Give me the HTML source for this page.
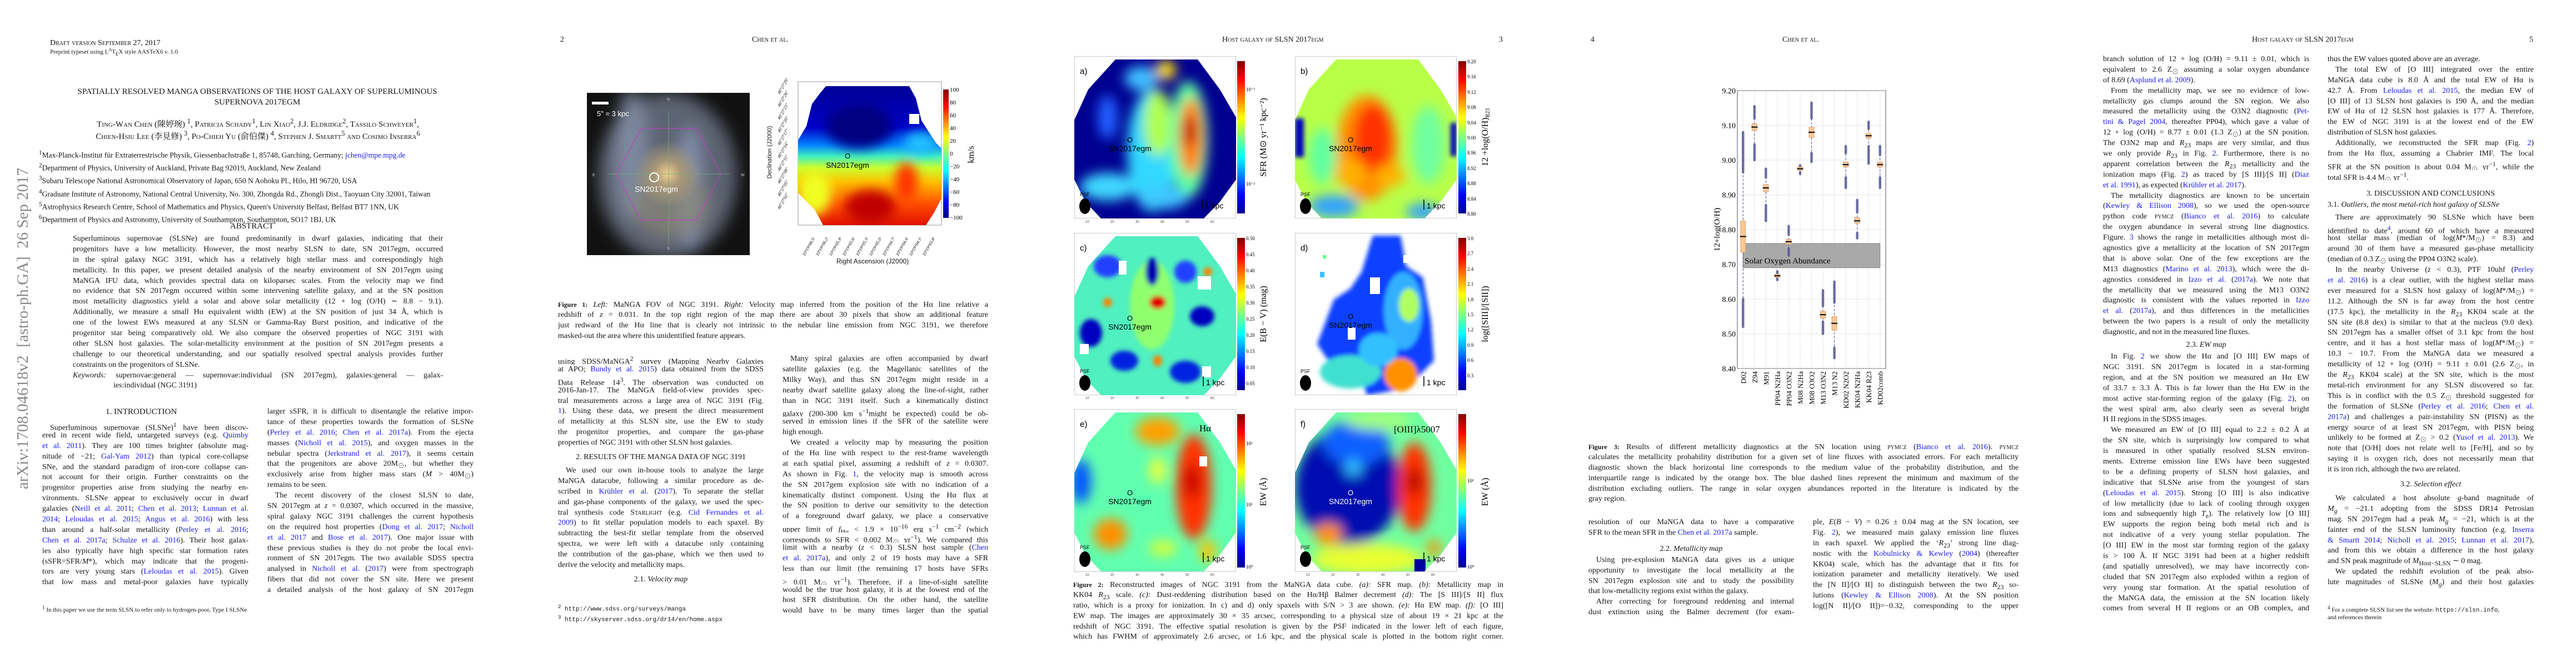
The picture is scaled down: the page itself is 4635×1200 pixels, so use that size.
<!DOCTYPE html>
<html><head><meta charset="utf-8">
<style>
body{margin:0;width:4635px;height:1200px;position:relative;background:#fff;font-family:"Liberation Serif","Noto Serif CJK SC",serif;color:#151515;overflow:hidden}
.a{position:absolute;white-space:nowrap}
.col{position:absolute;font-size:14px;line-height:18.9px}
.col p{margin:0;height:18.9px;overflow:hidden;text-align:justify;text-align-last:justify}
.col p.x{text-align-last:left}
.col p.i{text-indent:14px}
.col p.h{text-align:center;text-align-last:center}
.k{color:#1a1aee}
.sc{font-variant:small-caps}
.hd{position:absolute;font-size:14px;font-variant:small-caps;white-space:nowrap}
.cap{position:absolute;font-size:14px;line-height:18.9px}
.cap p{margin:0;height:18.9px;overflow:hidden;text-align:justify;text-align-last:justify}
.cap p.x{text-align-last:left}
.tk{font-size:11px;font-family:"Liberation Serif",serif}
.mono{font-family:"Liberation Mono",monospace;font-size:11px}
</style></head><body>

<!-- arXiv side stamp -->
<div class="a" style="left:-259px;top:576px;width:600px;height:30px;line-height:30px;font-size:29px;color:#8a8a8a;transform:rotate(-90deg);text-align:center">arXiv:1708.04618v2&nbsp; [astro-ph.GA]&nbsp; 26 Sep 2017</div>

<!-- PAGE 1 -->
<div class="a sc" style="left:90px;top:70px;font-size:14px">Draft version September 27, 2017</div>
<div class="a" style="left:90px;top:85px;font-size:11px">Preprint typeset using L<sup style="font-size:8px">A</sup>T<sub style="font-size:9px">E</sub>X style AASTeX6 v. 1.0</div>
<div class="a" style="left:109px;top:156px;width:708px;font-size:15px;line-height:19px;text-align:center;white-space:normal">SPATIALLY RESOLVED MANGA OBSERVATIONS OF THE HOST GALAXY OF SUPERLUMINOUS<br>SUPERNOVA 2017EGM</div>
<div class="a sc" style="left:124px;top:210px;width:680px;font-size:15px;line-height:16px;text-align:center;white-space:normal;font-family:'Liberation Serif','Noto Serif CJK SC',serif">Ting-Wan Chen (陳婷琬) <sup>1</sup>, Patricia Schady<sup>1</sup>, Lin Xiao<sup>2</sup>, J.J. Eldridge<sup>2</sup>, Tassilo Schweyer<sup>1</sup>,<br>Chien-Hsiu Lee (李見修) <sup>3</sup>, Po-Chieh Yu (俞伯傑) <sup>4</sup>, Stephen J. Smartt<sup>5</sup> and Cosimo Inserra<sup>6</sup></div>
<div class="a" style="left:70px;top:266px;font-size:13.5px;line-height:19.7px;white-space:nowrap">
<div><sup>1</sup>Max-Planck-Institut für Extraterrestrische Physik, Giessenbachstraße 1, 85748, Garching, Germany; <span class="k">jchen@mpe.mpg.de</span></div>
<div><sup>2</sup>Department of Physics, University of Auckland, Private Bag 92019, Auckland, New Zealand</div>
<div><sup>3</sup>Subaru Telescope National Astronomical Observatory of Japan, 650 N Aohoku Pl., Hilo, HI 96720, USA</div>
<div><sup>4</sup>Graduate Institute of Astronomy, National Central University, No. 300, Zhongda Rd., Zhongli Dist., Taoyuan City 32001, Taiwan</div>
<div><sup>5</sup>Astrophysics Research Centre, School of Mathematics and Physics, Queen's University Belfast, Belfast BT7 1NN, UK</div>
<div><sup>6</sup>Department of Physics and Astronomy, University of Southampton, Southampton, SO17 1BJ, UK</div></div>
<div class="a" style="left:414px;top:399px;font-size:15px">ABSTRACT</div>
<div class="col" style="left:131px;top:421px;width:666px">
<p>Superluminous supernovae (SLSNe) are found predominantly in dwarf galaxies, indicating that their</p>
<p>progenitors have a low metallicity. However, the most nearby SLSN to date, SN 2017egm, occurred</p>
<p>in the spiral galaxy NGC 3191, which has a relatively high stellar mass and correspondingly high</p>
<p>metallicity. In this paper, we present detailed analysis of the nearby environment of SN 2017egm using</p>
<p>MaNGA IFU data, which provides spectral data on kiloparsec scales. From the velocity map we find</p>
<p>no evidence that SN 2017egm occurred within some intervening satellite galaxy, and at the SN position</p>
<p>most metallicity diagnostics yield a solar and above solar metallicity (12 + log (O/H) ∼ 8.8 − 9.1).</p>
<p>Additionally, we measure a small Hα equivalent width (EW) at the SN position of just 34 Å, which is</p>
<p>one of the lowest EWs measured at any SLSN or Gamma-Ray Burst position, and indicative of the</p>
<p>progenitor star being comparatively old. We also compare the observed properties of NGC 3191 with</p>
<p>other SLSN host galaxies. The solar-metallicity environment at the position of SN 2017egm presents a</p>
<p>challenge to our theoretical understanding, and our spatially resolved spectral analysis provides further</p>
<p class="x">constraints on the progenitors of SLSNe.</p>
<p><i>Keywords:</i> supernovae:general — supernovae:individual (SN 2017egm), galaxies:general — galax-</p>
<p class="x" style="padding-left:73px">ies:individual (NGC 3191)</p></div>
<div class="a" style="left:190px;top:733px;font-size:15px">1. INTRODUCTION</div>
<div class="col" style="left:76px;top:756px;width:371px">
<p class="i">Superluminous supernovae (SLSNe)<sup>1</sup> have been discov-</p>
<p>ered in recent wide field, untargeted surveys (e.g. <span class="k">Quimby</span></p>
<p><span class="k">et al. 2011</span>). They are 100 times brighter (absolute mag-</p>
<p>nitude of −21; <span class="k">Gal-Yam 2012</span>) than typical core-collapse</p>
<p>SNe, and the standard paradigm of iron-core collapse can-</p>
<p>not account for their origin. Further constraints on the</p>
<p>progenitor properties arise from studying the nearby en-</p>
<p>vironments. SLSNe appear to exclusively occur in dwarf</p>
<p>galaxies (<span class="k">Neill et al. 2011</span>; <span class="k">Chen et al. 2013</span>; <span class="k">Lunnan et al.</span></p>
<p><span class="k">2014</span>; <span class="k">Leloudas et al. 2015</span>; <span class="k">Angus et al. 2016</span>) with less</p>
<p>than around a half-solar metallicity (<span class="k">Perley et al. 2016</span>;</p>
<p><span class="k">Chen et al. 2017a</span>; <span class="k">Schulze et al. 2016</span>). Their host galax-</p>
<p>ies also typically have high specific star formation rates</p>
<p>(sSFR=SFR/<i>M</i>*), which may indicate that the progeni-</p>
<p>tors are very young stars (<span class="k">Leloudas et al. 2015</span>). Given</p>
<p>that low mass and metal-poor galaxies have typically</p></div>
<div class="a" style="left:76px;top:1087px;width:371px;font-size:11px;line-height:12.5px;white-space:normal"><sup>1</sup> In this paper we use the term SLSN to refer only to hydrogen-poor, Type I SLSNe</div>
<div class="col" style="left:481px;top:732px;width:371px">
<p>larger sSFR, it is difficult to disentangle the relative impor-</p>
<p>tance of these properties towards the formation of SLSNe</p>
<p>(<span class="k">Perley et al. 2016</span>; <span class="k">Chen et al. 2017a</span>). From the ejecta</p>
<p>masses (<span class="k">Nicholl et al. 2015</span>), and oxygen masses in the</p>
<p>nebular spectra (<span class="k">Jerkstrand et al. 2017</span>), it seems certain</p>
<p>that the progenitors are above 20M<sub>⊙</sub>, but whether they</p>
<p>exclusively arise from higher mass stars (<i>M</i> &gt; 40M<sub>⊙</sub>)</p>
<p class="x">remains to be seen.</p>
<p class="i">The recent discovery of the closest SLSN to date,</p>
<p>SN 2017egm at <i>z</i> = 0.0307, which occurred in the massive,</p>
<p>spiral galaxy NGC 3191 challenges the current hypothesis</p>
<p>on the required host properties (<span class="k">Dong et al. 2017</span>; <span class="k">Nicholl</span></p>
<p><span class="k">et al. 2017</span> and <span class="k">Bose et al. 2017</span>). One major issue with</p>
<p>these previous studies is they do not probe the local envi-</p>
<p>ronment of SN 2017egm. The two available SDSS spectra</p>
<p>analysed in <span class="k">Nicholl et al.</span> (<span class="k">2017</span>) were from spectrograph</p>
<p>fibers that did not cover the SN site. Here we present</p>
<p>a detailed analysis of the host galaxy of SN 2017egm</p></div>

<!-- PAGE 2 -->
<div class="hd" style="left:1008px;top:64px">2</div>
<div class="hd" style="left:1353px;top:64px">Chen et al.</div>

<svg class="a" style="left:1056px;top:167px" width="293" height="292" viewBox="0 0 293 292">
<defs><filter id="gb"><feGaussianBlur stdDeviation="14"/></filter>
<radialGradient id="gc"><stop offset="0" stop-color="#f0d090"/><stop offset="0.4" stop-color="#a89878"/><stop offset="1" stop-color="#a89878" stop-opacity="0"/></radialGradient></defs>
<rect width="293" height="292" fill="#111"/>
<g filter="url(#gb)">
<ellipse cx="145" cy="150" rx="125" ry="150" fill="#6a7282" opacity="0.85"/>
<ellipse cx="80" cy="110" rx="30" ry="120" fill="#8a98b0" opacity="0.7"/>
<ellipse cx="185" cy="170" rx="25" ry="110" fill="#8a9ab8" opacity="0.8"/>
<ellipse cx="150" cy="200" rx="70" ry="60" fill="#8a8878" opacity="0.7"/>
</g>
<ellipse cx="145" cy="146" rx="60" ry="60" fill="url(#gc)"/>
<polygon points="53,146 98,64 197,64 241,146 197,229 97,229" fill="none" stroke="#c040c0" stroke-width="1.2"/>
<line x1="38" y1="146" x2="257" y2="146" stroke="#70b070" stroke-width="0.8"/>
<line x1="147" y1="36" x2="147" y2="273" stroke="#70b070" stroke-width="0.8"/>
<ellipse cx="121" cy="152" rx="8" ry="8" fill="none" stroke="#fff" stroke-width="2"/>
<text x="125" y="178" fill="#fff" font-size="14" font-family="Liberation Sans" text-anchor="middle">SN2017egm</text>
<rect x="9" y="16" width="30" height="5" fill="#fff"/>
<text x="18" y="42" fill="#fff" font-size="13" font-family="Liberation Sans">5" = 3 kpc</text>
<text x="144" y="14" fill="#ccc" font-size="7" font-family="Liberation Sans">N</text>
<text x="144" y="282" fill="#ccc" font-size="7" font-family="Liberation Sans">S</text>
<text x="10" y="150" fill="#ccc" font-size="7" font-family="Liberation Sans">E</text>
<text x="277" y="150" fill="#ccc" font-size="7" font-family="Liberation Sans">W</text>
</svg>

<svg class="a" style="left:1436px;top:147px;overflow:visible" width="258" height="258" viewBox="0 0 258 258">
<defs><clipPath id="cv"><polygon points="50,8 200,8 212,30 222,70 248,110 258,120 258,210 245,235 230,258 45,258 30,230 0,200 0,105 15,80 25,40 40,20"/></clipPath>
<linearGradient id="gv" x1="0" y1="0" x2="0" y2="1"><stop offset="0" stop-color="#00008f"/><stop offset="0.32" stop-color="#0000c8"/><stop offset="0.44" stop-color="#0080ff"/><stop offset="0.52" stop-color="#40f0c0"/><stop offset="0.6" stop-color="#c8ff30"/><stop offset="0.7" stop-color="#ffc000"/><stop offset="0.85" stop-color="#ff5000"/><stop offset="1" stop-color="#e01000"/></linearGradient>
<filter id="fv"><feGaussianBlur stdDeviation="10"/></filter></defs>
<rect x="0" y="0" width="258" height="258" fill="#fff" stroke="#999"/>
<g clip-path="url(#cv)"><rect width="258" height="258" fill="url(#gv)"/>
<g filter="url(#fv)"><ellipse cx="110" cy="80" rx="60" ry="40" fill="#000080"/><ellipse cx="130" cy="225" rx="45" ry="30" fill="#c00000"/><ellipse cx="195" cy="180" rx="20" ry="35" fill="#ff3000"/><ellipse cx="30" cy="200" rx="30" ry="40" fill="#f0ff20"/><ellipse cx="220" cy="110" rx="30" ry="20" fill="#20c0ff"/></g>
<rect x="200" y="58" width="18" height="18" fill="#fff"/></g>
<text x="89" y="138" font-size="13" font-family="Liberation Sans" text-anchor="middle">O</text>
<text x="89" y="155" font-size="14" font-family="Liberation Sans" text-anchor="middle">SN2017egm</text>
</svg>
<svg class="a" style="left:1697px;top:160px;overflow:visible" width="60" height="240">
<defs><linearGradient id="jet" x1="0" y1="0" x2="0" y2="1"><stop offset="0" stop-color="#800000"/><stop offset="0.12" stop-color="#ff0000"/><stop offset="0.37" stop-color="#ffff00"/><stop offset="0.5" stop-color="#80ff80"/><stop offset="0.63" stop-color="#00ffff"/><stop offset="0.88" stop-color="#0000ff"/><stop offset="1" stop-color="#00008f"/></linearGradient></defs>
<rect x="0" y="1" width="10" height="231" fill="url(#jet)"/>
<g class="tk" font-size="10" font-family="Liberation Serif"><text x="12" y="5">100</text><text x="12" y="28">80</text><text x="12" y="51">60</text><text x="12" y="74">40</text><text x="12" y="97">20</text><text x="12" y="120">0</text><text x="12" y="143">−20</text><text x="12" y="166">−40</text><text x="12" y="189">−60</text><text x="12" y="212">−80</text><text x="12" y="235">−100</text></g>
<text transform="translate(55,118) rotate(-90)" font-size="16" text-anchor="middle" font-family="Liberation Serif">km/s</text>
</svg>
<div class="a" style="left:1320px;top:268px;width:130px;text-align:center;font-family:'Liberation Sans',sans-serif;font-size:11px;transform:rotate(-90deg)">Declination (J2000)</div>
<svg class="a" style="left:1395px;top:140px" width="42" height="270">
<g font-size="8" font-family="Liberation Serif" font-style="italic">
<text transform="translate(8,30) rotate(-60)">46°27′29″</text><text transform="translate(8,53) rotate(-60)">46°27′26″</text><text transform="translate(8,76) rotate(-60)">46°27′23″</text><text transform="translate(8,99) rotate(-60)">46°27′20″</text><text transform="translate(8,122) rotate(-60)">46°27′17″</text><text transform="translate(8,145) rotate(-60)">46°27′14″</text><text transform="translate(8,168) rotate(-60)">46°27′11″</text><text transform="translate(8,191) rotate(-60)">46°27′08″</text><text transform="translate(8,214) rotate(-60)">46°27′05″</text><text transform="translate(8,237) rotate(-60)">46°27′02″</text></g></svg>
<svg class="a" style="left:1420px;top:405px" width="290" height="60">
<g font-size="8" font-family="Liberation Serif" font-style="italic">
<text transform="translate(28,56) rotate(-60)">10ʰ19ᵐ06.5ˢ</text><text transform="translate(52,56) rotate(-60)">10ʰ19ᵐ06.2ˢ</text><text transform="translate(76,56) rotate(-60)">10ʰ19ᵐ05.9ˢ</text><text transform="translate(100,56) rotate(-60)">10ʰ19ᵐ05.6ˢ</text><text transform="translate(124,56) rotate(-60)">10ʰ19ᵐ05.3ˢ</text><text transform="translate(148,56) rotate(-60)">10ʰ19ᵐ05.0ˢ</text><text transform="translate(172,56) rotate(-60)">10ʰ19ᵐ04.7ˢ</text><text transform="translate(196,56) rotate(-60)">10ʰ19ᵐ04.4ˢ</text><text transform="translate(220,56) rotate(-60)">10ʰ19ᵐ04.1ˢ</text><text transform="translate(244,56) rotate(-60)">10ʰ19ᵐ03.8ˢ</text></g></svg>
<div class="a" style="left:1505px;top:463px;font-family:'Liberation Sans',sans-serif;font-size:12px">Right Ascension (J2000)</div>

<div class="cap" style="left:1004px;top:539px;width:774px">
<p><b style="font-size:12px">Figure 1:</b> <i>Left:</i> MaNGA FOV of NGC 3191. <i>Right:</i> Velocity map inferred from the position of the Hα line relative a</p>
<p>redshift of <i>z</i> = 0.031. In the top right region of the map there are about 30 pixels that show an additional feature</p>
<p>just redward of the Hα line that is clearly not intrinsic to the nebular line emission from NGC 3191, we therefore</p>
<p class="x">masked-out the area where this unidentified feature appears.</p></div>
<div class="col" style="left:1004px;top:637px;width:370px">
<p>using SDSS/MaNGA<sup>2</sup> survey (Mapping Nearby Galaxies</p>
<p>at APO; <span class="k">Bundy et al. 2015</span>) data obtained from the SDSS</p>
<p>Data Release 14<sup>3</sup>. The observation was conducted on</p>
<p>2016-Jan-17. The MaNGA field-of-view provides spec-</p>
<p>tral measurements across a large area of NGC 3191 (Fig.</p>
<p><span class="k">1</span>). Using these data, we present the direct measurement</p>
<p>of metallicity at this SLSN site, use the EW to study</p>
<p>the progenitor properties, and compare the gas-phase</p>
<p class="x">properties of NGC 3191 with other SLSN host galaxies.</p>
<p class="h" style="height:31px;line-height:31px">2. RESULTS OF THE MANGA DATA OF NGC 3191</p>
<p class="i">We used our own in-house tools to analyze the large</p>
<p>MaNGA datacube, following a similar procedure as de-</p>
<p>scribed in <span class="k">Krühler et al.</span> (<span class="k">2017</span>). To separate the stellar</p>
<p>and gas-phase components of the galaxy, we used the spec-</p>
<p>tral synthesis code <span class="sc">Starlight</span> (e.g. <span class="k">Cid Fernandes et al.</span></p>
<p><span class="k">2009</span>) to fit stellar population models to each spaxel. By</p>
<p>subtracting the best-fit stellar template from the observed</p>
<p>spectra, we were left with a datacube only containing</p>
<p>the contribution of the gas-phase, which we then used to</p>
<p class="x">derive the velocity and metallicity maps.</p>
<p class="h" style="height:31px;line-height:31px">2.1. <i>Velocity map</i></p></div>
<div class="a mono" style="left:1004px;top:1085px;line-height:13px"><sup>2</sup> http://www.sdss.org/surveys/manga<br><sup>3</sup> http://skyserver.sdss.org/dr14/en/home.aspx</div>
<div class="col" style="left:1408px;top:637px;width:370px">
<p class="i">Many spiral galaxies are often accompanied by dwarf</p>
<p>satellite galaxies (e.g. the Magellanic satellites of the</p>
<p>Milky Way), and thus SN 2017egm might reside in a</p>
<p>nearby dwarf satellite galaxy along the line-of-sight, rather</p>
<p>than in NGC 3191 itself. Such a kinematically distinct</p>
<p>galaxy (200-300 km s<sup>−1</sup>might be expected) could be ob-</p>
<p>served in emission lines if the SFR of the satellite were</p>
<p class="x">high enough.</p>
<p class="i">We created a velocity map by measuring the position</p>
<p>of the Hα line with respect to the rest-frame wavelength</p>
<p>at each spatial pixel, assuming a redshift of <i>z</i> = 0.0307.</p>
<p>As shown in Fig. <span class="k">1</span>, the velocity map is smooth across</p>
<p>the SN 2017gem explosion site with no indication of a</p>
<p>kinematically distinct component. Using the Hα flux at</p>
<p>the SN position to derive our sensitivity to the detection</p>
<p>of a foreground dwarf galaxy, we place a conservative</p>
<p>upper limit of <i>f</i><sub>Hα</sub> &lt; 1.9 × 10<sup>−16</sup> erg s<sup>−1</sup> cm<sup>−2</sup> (which</p>
<p>corresponds to SFR &lt; 0.002 M<sub>⊙</sub> yr<sup>−1</sup>). We compared this</p>
<p>limit with a nearby (<i>z</i> &lt; 0.3) SLSN host sample (<span class="k">Chen</span></p>
<p><span class="k">et al. 2017a</span>), and only 2 of 19 hosts may have a SFR</p>
<p>less than our limit (the remaining 17 hosts have SFRs</p>
<p>&gt; 0.01 M<sub>⊙</sub> yr<sup>−1</sup>). Therefore, if a line-of-sight satellite</p>
<p>would be the true host galaxy, it is at the lowest end of the</p>
<p>host SFR distribution. On the other hand, the satellite</p>
<p>would have to be many times larger than the spatial</p></div>

<!-- PAGE 3 -->
<div class="hd" style="left:2199px;top:64px">Host galaxy of SLSN 2017egm</div>
<div class="hd" style="left:2697px;top:64px">3</div>

<svg width="0" height="0" style="position:absolute"><defs>
<clipPath id="hx"><polygon points="74,6 222,6 262,60 291,110 291,222 262,262 233,292 48,292 20,262 0,222 0,115 25,60"/></clipPath>
<filter id="bl"><feGaussianBlur stdDeviation="11"/></filter>
<filter id="bs"><feGaussianBlur stdDeviation="4"/></filter>
<linearGradient id="jet2" x1="0" y1="0" x2="0" y2="1"><stop offset="0" stop-color="#800000"/><stop offset="0.12" stop-color="#ff0000"/><stop offset="0.37" stop-color="#ffff00"/><stop offset="0.5" stop-color="#80ff80"/><stop offset="0.63" stop-color="#00ffff"/><stop offset="0.88" stop-color="#0000ff"/><stop offset="1" stop-color="#00008f"/></linearGradient>
</defs></svg>

<!-- panel a -->
<svg class="a" style="left:1933px;top:101px" width="291" height="292">
<rect width="291" height="292" fill="#fff" stroke="#999"/>
<g clip-path="url(#hx)"><rect width="291" height="292" fill="#00008f"/>
<g filter="url(#bl)"><ellipse cx="140" cy="170" rx="45" ry="110" fill="#30d8ff"/><ellipse cx="150" cy="120" rx="25" ry="60" fill="#b0ff50"/><ellipse cx="205" cy="150" rx="35" ry="105" fill="#60ffa0"/><ellipse cx="210" cy="145" rx="22" ry="70" fill="#ff8000"/><ellipse cx="208" cy="135" rx="12" ry="28" fill="#c00000"/><ellipse cx="165" cy="25" rx="18" ry="18" fill="#ffe000"/><ellipse cx="120" cy="40" rx="30" ry="22" fill="#40c0ff"/><ellipse cx="60" cy="235" rx="50" ry="25" fill="#40d8ff"/><ellipse cx="160" cy="255" rx="45" ry="20" fill="#40c8ff"/><ellipse cx="60" cy="110" rx="18" ry="40" fill="#2060ff"/></g></g>
<text x="10" y="32" font-size="15" font-family="Liberation Sans">a)</text>
<text x="100" y="155" font-size="13" font-family="Liberation Sans" text-anchor="middle">O</text><text x="100" y="171" font-size="14" font-family="Liberation Sans" text-anchor="middle">SN2017egm</text>
<text x="10" y="252" font-size="9" font-family="Liberation Sans">PSF</text><ellipse cx="19" cy="270" rx="10" ry="14"/>
<line x1="230" y1="258" x2="230" y2="276" stroke="#000" stroke-width="1.5"/><text x="235" y="274" font-size="14" font-family="Liberation Sans">1 kpc</text></svg>
<!-- panel b -->
<svg class="a" style="left:2330px;top:101px" width="291" height="292">
<rect width="291" height="292" fill="#fff" stroke="#999"/>
<g clip-path="url(#hx)"><rect width="291" height="292" fill="#b8ff48"/>
<g filter="url(#bl)"><ellipse cx="50" cy="180" rx="25" ry="50" fill="#60ffa0"/><ellipse cx="240" cy="160" rx="30" ry="70" fill="#70ffa0"/><ellipse cx="130" cy="165" rx="55" ry="95" fill="#ff9000"/><ellipse cx="140" cy="150" rx="35" ry="65" fill="#ff3000"/><ellipse cx="100" cy="210" rx="30" ry="25" fill="#ffb000"/><ellipse cx="170" cy="215" rx="28" ry="20" fill="#ffb000"/><ellipse cx="70" cy="270" rx="45" ry="20" fill="#30a0ff"/><ellipse cx="230" cy="280" rx="30" ry="15" fill="#30a0ff"/></g>
<g filter="url(#bs)"><rect x="0" y="112" width="16" height="70" fill="#0000c0"/><rect x="280" y="120" width="11" height="60" fill="#0000c0"/></g></g>
<text x="10" y="32" font-size="15" font-family="Liberation Sans">b)</text>
<text x="100" y="155" font-size="13" font-family="Liberation Sans" text-anchor="middle">O</text><text x="100" y="171" font-size="14" font-family="Liberation Sans" text-anchor="middle">SN2017egm</text>
<text x="10" y="252" font-size="9" font-family="Liberation Sans">PSF</text><ellipse cx="19" cy="270" rx="10" ry="14"/>
<line x1="232" y1="258" x2="232" y2="276" stroke="#000" stroke-width="1.5"/><text x="237" y="274" font-size="14" font-family="Liberation Sans">1 kpc</text></svg>
<!-- panel c -->
<svg class="a" style="left:1933px;top:419px" width="291" height="292">
<rect width="291" height="292" fill="#fff" stroke="#999"/>
<g clip-path="url(#hx)"><rect width="291" height="292" fill="#50f0c0"/>
<g filter="url(#bs)"><ellipse cx="140" cy="130" rx="40" ry="80" fill="#90ff70"/><ellipse cx="60" cy="60" rx="25" ry="20" fill="#2040ff"/><ellipse cx="200" cy="70" rx="20" ry="20" fill="#2040ff"/><ellipse cx="140" cy="70" rx="12" ry="25" fill="#0000b0"/><ellipse cx="230" cy="150" rx="22" ry="18" fill="#0000c0"/><ellipse cx="30" cy="180" rx="20" ry="25" fill="#0000c0"/><ellipse cx="90" cy="230" rx="25" ry="18" fill="#0020e0"/><ellipse cx="200" cy="250" rx="28" ry="20" fill="#0020e0"/><ellipse cx="150" cy="125" rx="15" ry="12" fill="#e00000"/><ellipse cx="60" cy="125" rx="8" ry="8" fill="#ff8000"/><ellipse cx="240" cy="70" rx="8" ry="8" fill="#ff8000"/><ellipse cx="150" cy="230" rx="8" ry="10" fill="#ff8000"/></g>
<rect x="80" y="50" width="14" height="25" fill="#fff"/><rect x="222" y="78" width="24" height="24" fill="#fff"/><rect x="10" y="200" width="16" height="18" fill="#fff"/><rect x="230" y="240" width="16" height="20" fill="#fff"/></g>
<text x="10" y="32" font-size="15" font-family="Liberation Sans">c)</text>
<text x="100" y="158" font-size="13" font-family="Liberation Sans" text-anchor="middle">O</text><text x="100" y="174" font-size="14" font-family="Liberation Sans" text-anchor="middle">SN2017egm</text>
<text x="10" y="252" font-size="9" font-family="Liberation Sans">PSF</text><ellipse cx="19" cy="270" rx="10" ry="14"/>
<line x1="232" y1="258" x2="232" y2="276" stroke="#000" stroke-width="1.5"/><text x="237" y="274" font-size="14" font-family="Liberation Sans">1 kpc</text></svg>
<!-- panel d -->
<svg class="a" style="left:2330px;top:419px" width="291" height="292">
<rect width="291" height="292" fill="#fff" stroke="#999"/>
<g filter="url(#bs)"><path d="M140,5 L190,5 L200,60 L230,80 L245,160 L250,230 L200,280 L130,292 L110,240 L60,230 L40,200 L70,120 L100,100 L120,70 Z" fill="#1040ff"/><ellipse cx="195" cy="140" rx="35" ry="70" fill="#30b0ff"/><ellipse cx="205" cy="130" rx="18" ry="30" fill="#b0ff60"/><ellipse cx="190" cy="255" rx="30" ry="30" fill="#ff9000"/><ellipse cx="100" cy="250" rx="55" ry="30" fill="#40e0d0"/><ellipse cx="150" cy="210" rx="35" ry="30" fill="#30c0ff"/></g>
<rect x="95" y="170" width="14" height="22" fill="#fff"/><rect x="135" y="80" width="18" height="30" fill="#fff"/><rect x="195" y="40" width="22" height="14" fill="#fff"/>
<rect x="50" y="40" width="6" height="6" fill="#60ff80"/><rect x="45" y="70" width="8" height="10" fill="#40c0ff"/>
<text x="10" y="32" font-size="15" font-family="Liberation Sans">d)</text>
<text x="100" y="155" font-size="13" font-family="Liberation Sans" text-anchor="middle">O</text><text x="100" y="171" font-size="14" font-family="Liberation Sans" text-anchor="middle">SN2017egm</text>
<text x="10" y="252" font-size="9" font-family="Liberation Sans">PSF</text><ellipse cx="19" cy="270" rx="10" ry="14"/>
<line x1="232" y1="258" x2="232" y2="276" stroke="#000" stroke-width="1.5"/><text x="237" y="274" font-size="14" font-family="Liberation Sans">1 kpc</text></svg>
<!-- panel e -->
<svg class="a" style="left:1933px;top:736px" width="291" height="293">
<rect width="291" height="293" fill="#fff" stroke="#999"/>
<g clip-path="url(#hx)"><rect width="291" height="293" fill="#60ffb0"/>
<g filter="url(#bl)"><ellipse cx="150" cy="40" rx="40" ry="25" fill="#ffa000"/><ellipse cx="215" cy="140" rx="32" ry="95" fill="#ff3000"/><ellipse cx="212" cy="130" rx="14" ry="30" fill="#c00000"/><ellipse cx="65" cy="225" rx="30" ry="28" fill="#ff9000"/><ellipse cx="150" cy="110" rx="15" ry="25" fill="#e8ff40"/><ellipse cx="12" cy="130" rx="18" ry="40" fill="#0050ff"/><ellipse cx="160" cy="250" rx="25" ry="15" fill="#d0ff40"/><ellipse cx="240" cy="255" rx="15" ry="20" fill="#ffc000"/></g>
<rect x="225" y="85" width="14" height="18" fill="#fff"/></g>
<text x="10" y="32" font-size="15" font-family="Liberation Sans">e)</text>
<text x="225" y="40" font-size="17" font-family="Liberation Serif">Hα</text>
<text x="100" y="155" font-size="13" font-family="Liberation Sans" text-anchor="middle">O</text><text x="100" y="171" font-size="14" font-family="Liberation Sans" text-anchor="middle">SN2017egm</text>
<text x="10" y="252" font-size="9" font-family="Liberation Sans">PSF</text><ellipse cx="19" cy="270" rx="10" ry="14"/>
<line x1="232" y1="258" x2="232" y2="276" stroke="#000" stroke-width="1.5"/><text x="237" y="274" font-size="14" font-family="Liberation Sans">1 kpc</text></svg>
<!-- panel f -->
<svg class="a" style="left:2330px;top:736px" width="291" height="293">
<rect width="291" height="293" fill="#fff" stroke="#999"/>
<g clip-path="url(#hx)"><rect width="291" height="293" fill="#70ffa0"/>
<g filter="url(#bl)"><ellipse cx="95" cy="140" rx="95" ry="105" fill="#0010b0"/><ellipse cx="110" cy="60" rx="60" ry="40" fill="#1060ff"/><ellipse cx="105" cy="105" rx="15" ry="15" fill="#30c0ff"/><ellipse cx="215" cy="140" rx="30" ry="80" fill="#ff3000"/><ellipse cx="215" cy="130" rx="13" ry="25" fill="#b00000"/><ellipse cx="130" cy="270" rx="100" ry="28" fill="#e8ff30"/><ellipse cx="60" cy="225" rx="25" ry="20" fill="#ff9000"/><ellipse cx="150" cy="20" rx="60" ry="18" fill="#a0ff80"/><ellipse cx="250" cy="250" rx="12" ry="15" fill="#ff9000"/></g>
<rect x="215" y="270" width="20" height="23" fill="#0000a0"/></g>
<text x="10" y="32" font-size="15" font-family="Liberation Sans">f)</text>
<text x="178" y="42" font-size="17" font-family="Liberation Serif">[OIII]λ5007</text>
<text x="100" y="155" font-size="13" font-family="Liberation Sans" text-anchor="middle" fill="#fff">O</text><text x="100" y="171" font-size="14" font-family="Liberation Sans" text-anchor="middle" fill="#fff">SN2017egm</text>
<text x="10" y="252" font-size="9" font-family="Liberation Sans">PSF</text><ellipse cx="19" cy="270" rx="10" ry="14"/>
<line x1="232" y1="258" x2="232" y2="276" stroke="#000" stroke-width="1.5"/><text x="237" y="274" font-size="14" font-family="Liberation Sans">1 kpc</text></svg>

<!-- colorbars -->
<svg class="a" style="left:2226px;top:110px;overflow:visible" width="60" height="275"><rect width="14" height="274" fill="url(#jet2)"/><g font-size="9" font-family="Liberation Serif"><text x="16" y="54">10⁻¹</text><text x="16" y="224">10⁻²</text></g><text transform="translate(52,137) rotate(-90)" font-size="16" text-anchor="middle" font-family="Liberation Serif">SFR (M⊙ yr⁻¹ kpc⁻²)</text></svg>
<svg class="a" style="left:2624px;top:110px;overflow:visible" width="60" height="275"><rect width="14" height="274" fill="url(#jet2)"/><g font-size="9" font-family="Liberation Serif"><text x="16" y="4">9.20</text><text x="16" y="31">9.16</text><text x="16" y="59">9.12</text><text x="16" y="86">9.08</text><text x="16" y="114">9.04</text><text x="16" y="141">9.00</text><text x="16" y="168">8.96</text><text x="16" y="196">8.92</text><text x="16" y="223">8.88</text><text x="16" y="251">8.84</text><text x="16" y="278">8.80</text></g><text transform="translate(53,137) rotate(-90)" font-size="16" text-anchor="middle" font-family="Liberation Serif">12 +log(O/H)<tspan font-size="10" dy="3">R23</tspan></text></svg>
<svg class="a" style="left:2226px;top:428px;overflow:visible" width="60" height="275"><rect width="14" height="274" fill="url(#jet2)"/><g font-size="9" font-family="Liberation Serif"><text x="16" y="4">0.50</text><text x="16" y="33">0.45</text><text x="16" y="62">0.40</text><text x="16" y="91">0.35</text><text x="16" y="120">0.30</text><text x="16" y="149">0.25</text><text x="16" y="178">0.20</text><text x="16" y="207">0.15</text><text x="16" y="236">0.10</text><text x="16" y="265">0.05</text></g><text transform="translate(52,137) rotate(-90)" font-size="16" text-anchor="middle" font-family="Liberation Serif">E(B − V) (mag)</text></svg>
<svg class="a" style="left:2624px;top:428px;overflow:visible" width="60" height="275"><rect width="14" height="274" fill="url(#jet2)"/><g font-size="9" font-family="Liberation Serif"><text x="16" y="4">3.0</text><text x="16" y="31">2.7</text><text x="16" y="59">2.4</text><text x="16" y="86">2.1</text><text x="16" y="114">1.8</text><text x="16" y="141">1.5</text><text x="16" y="168">1.2</text><text x="16" y="196">0.9</text><text x="16" y="223">0.6</text><text x="16" y="251">0.3</text></g><text transform="translate(53,137) rotate(-90)" font-size="16" text-anchor="middle" font-family="Liberation Serif">log([SIII]/[SII])</text></svg>
<svg class="a" style="left:2226px;top:745px;overflow:visible" width="60" height="277"><rect width="14" height="276" fill="url(#jet2)"/><g font-size="9" font-family="Liberation Serif"><text x="16" y="56">10²</text><text x="16" y="166">10¹</text><text x="16" y="278">10⁰</text></g><text transform="translate(52,140) rotate(-90)" font-size="16" text-anchor="middle" font-family="Liberation Serif">EW (Å)</text></svg>
<svg class="a" style="left:2624px;top:745px;overflow:visible" width="60" height="277"><rect width="14" height="276" fill="url(#jet2)"/><g font-size="9" font-family="Liberation Serif"><text x="16" y="123">10¹</text><text x="16" y="278">10⁰</text></g><text transform="translate(53,140) rotate(-90)" font-size="16" text-anchor="middle" font-family="Liberation Serif">EW (Å)</text></svg>
<svg class="a" style="left:1933px;top:393px" width="700" height="645"><g font-size="6" font-family="Liberation Sans" fill="#444"><text x="20" y="8">10</text><text x="65" y="8">20</text><text x="110" y="8">30</text><text x="155" y="8">40</text><text x="200" y="8">50</text><text x="245" y="8">60</text><text x="20" y="325">10</text><text x="65" y="325">20</text><text x="110" y="325">30</text><text x="155" y="325">40</text><text x="200" y="325">50</text><text x="245" y="325">60</text><text x="20" y="643">10</text><text x="65" y="643">20</text><text x="110" y="643">30</text><text x="155" y="643">40</text><text x="200" y="643">50</text><text x="245" y="643">60</text><text x="417" y="643">10</text><text x="462" y="643">20</text><text x="507" y="643">30</text><text x="552" y="643">40</text><text x="597" y="643">50</text><text x="642" y="643">60</text></g></svg>

<div class="cap" style="left:1931px;top:1043px;width:774px">
<p><b style="font-size:12px">Figure 2:</b> Reconstructed images of NGC 3191 from the MaNGA data cube. <i>(a):</i> SFR map. <i>(b):</i> Metallicity map in</p>
<p>KK04 <i>R</i><sub>23</sub> scale. <i>(c):</i> Dust-reddening distribution based on the Hα/Hβ Balmer decrement <i>(d):</i> The [S III]/[S II] flux</p>
<p>ratio, which is a proxy for ionization. In c) and d) only spaxels with S/N &gt; 3 are shown. <i>(e):</i> Hα EW map. <i>(f):</i> [O III]</p>
<p>EW map. The images are approximately 30 × 35 arcsec, corresponding to a physical size of about 19 × 21 kpc at the</p>
<p>redshift of NGC 3191. The effective spatial resolution is given by the PSF indicated in the lower left of each figure,</p>
<p>which has FWHM of approximately 2.6 arcsec, or 1.6 kpc, and the physical scale is plotted in the bottom right corner.</p></div>

<!-- PAGE 4 -->
<div class="hd" style="left:2862px;top:64px">4</div>
<div class="hd" style="left:3207px;top:64px">Chen et al.</div>

<svg class="a" id="fig3" style="left:3060px;top:150px;overflow:visible" width="360" height="590"></svg>

<div class="cap" style="left:2858px;top:795px;width:774px">
<p><b style="font-size:12px">Figure 3:</b> Results of different metallicity diagnostics at the SN location using <span class="sc">pymcz</span> (<span class="k">Bianco et al. 2016</span>). <span class="sc">pymcz</span></p>
<p>calculates the metallicity probability distribution for a given set of line fluxes with associated errors. For each metallicity</p>
<p>diagnostic shown the black horizontal line corresponds to the medium value of the probability distribution, and the</p>
<p>interquartile range is indicated by the orange box. The blue dashed lines represent the minimum and maximum of the</p>
<p>distribution excluding outliers. The range in solar oxygen abundances reported in the literature is indicated by the</p>
<p class="x">gray region.</p></div>
<div class="col" style="left:2858px;top:931px;width:370px">
<p>resolution of our MaNGA data to have a comparative</p>
<p class="x">SFR to the mean SFR in the <span class="k">Chen et al. 2017a</span> sample.</p>
<p class="h" style="height:30px;line-height:38px">2.2. <i>Metallicity map</i></p>
<p class="i">Using pre-explosion MaNGA data gives us a unique</p>
<p>opportunity to investigate the local metallicity at the</p>
<p>SN 2017egm explosion site and to study the possibility</p>
<p class="x">that low-metallicity regions exist within the galaxy.</p>
<p class="i">After correcting for foreground reddening and internal</p>
<p>dust extinction using the Balmer decrement (for exam-</p></div>
<div class="col" style="left:3262px;top:931px;width:370px">
<p>ple, <i>E</i>(<i>B</i> − <i>V</i>) = 0.26 ± 0.04 mag at the SN location, see</p>
<p>Fig. <span class="k">2</span>), we measured main galaxy emission line fluxes</p>
<p>in each spaxel. We applied the ‘<i>R</i><sub>23</sub>’ strong line diag-</p>
<p>nostic with the <span class="k">Kobulnicky &amp; Kewley</span> (<span class="k">2004</span>) (thereafter</p>
<p>KK04) scale, which has the advantage that it fits for</p>
<p>ionization parameter and metallicity iteratively. We used</p>
<p>the [N II]/[O II] to distinguish between the two <i>R</i><sub>23</sub> so-</p>
<p>lutions (<span class="k">Kewley &amp; Ellison 2008</span>). At the SN position</p>
<p>log([N II]/[O II])=−0.32, corresponding to the upper</p></div>

<!-- PAGE 5 -->
<div class="hd" style="left:4052px;top:64px">Host galaxy of SLSN 2017egm</div>
<div class="hd" style="left:4551px;top:64px">5</div>
<div class="col" style="left:3784px;top:98px;width:371px">
<p>branch solution of 12 + log (O/H) = 9.11 ± 0.01, which is</p>
<p>equivalent to 2.6 Z<sub>⊙</sub> assuming a solar oxygen abundance</p>
<p class="x">of 8.69 (<span class="k">Asplund et al. 2009</span>).</p>
<p class="i">From the metallicity map, we see no evidence of low-</p>
<p>metallicity gas clumps around the SN region. We also</p>
<p>measured the metallicity using the O3N2 diagnostic (<span class="k">Pet-</span></p>
<p><span class="k">tini &amp; Pagel 2004</span>, thereafter PP04), which gave a value of</p>
<p>12 + log (O/H) = 8.77 ± 0.01 (1.3 Z<sub>⊙</sub>) at the SN position.</p>
<p>The O3N2 map and <i>R</i><sub>23</sub> maps are very similar, and thus</p>
<p>we only provide <i>R</i><sub>23</sub> in Fig. <span class="k">2</span>. Furthermore, there is no</p>
<p>apparent correlation between the <i>R</i><sub>23</sub> metallicity and the</p>
<p>ionization maps (Fig. <span class="k">2</span>) as traced by [S III]/[S II] (<span class="k">Diaz</span></p>
<p class="x"><span class="k">et al. 1991</span>), as expected (<span class="k">Krühler et al. 2017</span>).</p>
<p class="i">The metallicity diagnostics are known to be uncertain</p>
<p>(<span class="k">Kewley &amp; Ellison 2008</span>), so we used the open-source</p>
<p>python code <span class="sc">pymcz</span> (<span class="k">Bianco et al. 2016</span>) to calculate</p>
<p>the oxygen abundance in several strong line diagnostics.</p>
<p>Figure. <span class="k">3</span> shows the range in metallicities although most di-</p>
<p>agnostics give a metallicity at the location of SN 2017egm</p>
<p>that is above solar. One of the few exceptions are the</p>
<p>M13 diagnostics (<span class="k">Marino et al. 2013</span>), which were the di-</p>
<p>agnostics considered in <span class="k">Izzo et al.</span> (<span class="k">2017a</span>). We note that</p>
<p>the metallicity that we measured using the M13 O3N2</p>
<p>diagnostic is consistent with the values reported in <span class="k">Izzo</span></p>
<p><span class="k">et al.</span> (<span class="k">2017a</span>), and thus differences in the metallicities</p>
<p>between the two papers is a result of only the metallicity</p>
<p class="x">diagnostic, and not in the measured line fluxes.</p>
<p class="h" style="height:25px;line-height:25px">2.3. <i>EW map</i></p>
<p class="i">In Fig. <span class="k">2</span> we show the Hα and [O III] EW maps of</p>
<p>NGC 3191. SN 2017egm is located in a star-forming</p>
<p>region, and at the SN position we measured an Hα EW</p>
<p>of 33.7 ± 3.3 Å. This is far lower than the Hα EW in the</p>
<p>most active star-forming region of the galaxy (Fig. <span class="k">2</span>), on</p>
<p>the west spiral arm, also clearly seen as several bright</p>
<p class="x">H II regions in the SDSS images.</p>
<p class="i">We measured an EW of [O III] equal to 2.2 ± 0.2 Å at</p>
<p>the SN site, which is surprisingly low compared to what</p>
<p>is measured in other spatially resolved SLSN environ-</p>
<p>ments. Extreme emission line EWs have been suggested</p>
<p>to be a defining property of SLSN host galaxies, and</p>
<p>indicative that SLSNe arise from the youngest of stars</p>
<p>(<span class="k">Leloudas et al. 2015</span>). Strong [O III] is also indicative</p>
<p>of low metallicity (due to lack of cooling through oxygen</p>
<p>ions and subsequently high <i>T</i><sub>e</sub>). The relatively low [O III]</p>
<p>EW supports the region being both metal rich and is</p>
<p>not indicative of a very young stellar population. The</p>
<p>[O III] EW in the most star forming region of the galaxy</p>
<p>is &gt; 100 Å. If NGC 3191 had been at a higher redshift</p>
<p>(and spatially unresolved), we may have incorrectly con-</p>
<p>cluded that SN 2017egm also exploded within a region of</p>
<p>very young star formation. At the spatial resolution of</p>
<p>the MaNGA data, the emission at the SN location likely</p>
<p>comes from several H II regions or an OB complex, and</p></div>
<div class="col" style="left:4188px;top:98px;width:371px">
<p class="x">thus the EW values quoted above are an average.</p>
<p class="i">The total EW of [O III] integrated over the entire</p>
<p>MaNGA data cube is 8.0 Å and the total EW of Hα is</p>
<p>42.7 Å. From <span class="k">Leloudas et al. 2015</span>, the median EW of</p>
<p>[O III] of 13 SLSN host galaxies is 190 Å, and the median</p>
<p>EW of Hα of 12 SLSN host galaxies is 177 Å. Therefore,</p>
<p>the EW of NGC 3191 is at the lowest end of the EW</p>
<p class="x">distribution of SLSN host galaxies.</p>
<p class="i">Additionally, we reconstructed the SFR map (Fig. <span class="k">2</span>)</p>
<p>from the Hα flux, assuming a Chabrier IMF. The local</p>
<p>SFR at the SN position is about 0.04 M<sub>⊙</sub> yr<sup>−1</sup>, while the</p>
<p class="x">total SFR is 4.4 M<sub>⊙</sub> yr<sup>−1</sup>.</p>
<p class="h" style="height:33px;line-height:48px">3. DISCUSSION AND CONCLUSIONS</p>
<p class="x" style="height:25px;line-height:22px">3.1. <i>Outliers, the most metal-rich host galaxy of SLSNe</i></p>
<p class="i">There are approximately 90 SLSNe which have been</p>
<p>identified to date<sup class="k">4</sup>, around 60 of which have a measured</p>
<p>host stellar mass (median of log(<i>M</i>*/M<sub>⊙</sub>) = 8.3) and</p>
<p>around 30 of them have a measured gas-phase metallicity</p>
<p class="x">(median of 0.3 Z<sub>⊙</sub> using the PP04 O3N2 scale).</p>
<p class="i">In the nearby Universe (<i>z</i> &lt; 0.3), PTF 10uhf (<span class="k">Perley</span></p>
<p><span class="k">et al. 2016</span>) is a clear outlier, with the highest stellar mass</p>
<p>ever measured for a SLSN host galaxy of log(<i>M</i>*/M<sub>⊙</sub>) =</p>
<p>11.2. Although the SN is far away from the host centre</p>
<p>(17.5 kpc), the metallicity in the <i>R</i><sub>23</sub> KK04 scale at the</p>
<p>SN site (8.8 dex) is similar to that at the nucleus (9.0 dex).</p>
<p>SN 2017egm has a smaller offset of 3.1 kpc from the host</p>
<p>centre, and it has a host stellar mass of log(<i>M</i>*/M<sub>⊙</sub>) =</p>
<p>10.3 − 10.7. From the MaNGA data we measured a</p>
<p>metallicity of 12 + log (O/H) = 9.11 ± 0.01 (2.6 Z<sub>⊙</sub>, in</p>
<p>the <i>R</i><sub>23</sub> KK04 scale) at the SN site, which is the most</p>
<p>metal-rich environment for any SLSN discovered so far.</p>
<p>This is in conflict with the 0.5 Z<sub>⊙</sub> threshold suggested for</p>
<p>the formation of SLSNe (<span class="k">Perley et al. 2016</span>; <span class="k">Chen et al.</span></p>
<p><span class="k">2017a</span>) and challenges a pair-instability SN (PISN) as the</p>
<p>energy source of at least SN 2017egm, with PISN being</p>
<p>unlikely to be formed at Z<sub>⊙</sub> &gt; 0.2 (<span class="k">Yusof et al. 2013</span>). We</p>
<p>note that [O/H] does not relate well to [Fe/H], and so by</p>
<p>saying it is oxygen rich, does not necessarily mean that</p>
<p class="x">it is iron rich, although the two are related.</p>
<p class="h" style="height:33px;line-height:33px">3.2. <i>Selection effect</i></p>
<p class="i">We calculated a host absolute <i>g</i>-band magnitude of</p>
<p><i>M<sub>g</sub></i> = −21.1 adopting from the SDSS DR14 Petrosian</p>
<p>mag. SN 2017egm had a peak <i>M<sub>g</sub></i> = −21, which is at the</p>
<p>fainter end of the SLSN luminosity function (e.g. <span class="k">Inserra</span></p>
<p><span class="k">&amp; Smartt 2014</span>; <span class="k">Nicholl et al. 2015</span>; <span class="k">Lunnan et al. 2017</span>),</p>
<p>and from this we obtain a difference in the host galaxy</p>
<p class="x">and SN peak magnitude of <i>M</i><sub>Host−SLSN</sub> ∼ 0 mag.</p>
<p class="i">We updated the redshift evolution of the peak abso-</p>
<p>lute magnitudes of SLSNe (<i>M<sub>g</sub></i>) and their host galaxies</p></div>
<div class="a" style="left:4188px;top:1087px;font-size:11px;line-height:12.5px"><sup>4</sup> For a complete SLSN list see the website: <span class="mono">https://slsn.info</span>,<br>and references therein</div>

<script>
const diagnostics=["D02","Z94","M91","PP04 N2Ha","PP04 O3N2","M08 N2Ha","M08 O3O2","M13 O3N2","M13 N2","KD02 N2O2","KK04 N2Ha","KK04 R23","KD02comb"];
const medians=[8.78,9.095,8.92,8.667,8.765,8.975,9.08,8.555,8.53,8.987,8.825,9.07,8.987];
const q1=[8.735,9.085,8.908,8.662,8.758,8.97,9.065,8.545,8.51,8.98,8.818,9.063,8.98];
const q3=[8.825,9.105,8.93,8.672,8.772,8.98,9.095,8.565,8.55,8.995,8.835,9.077,8.995];
const whiskLo=[8.52,9.00,8.825,8.655,8.725,8.96,8.995,8.50,8.43,8.92,8.775,8.99,8.92];
const whiskHi=[9.08,9.155,8.975,8.68,8.81,8.985,9.165,8.625,8.65,9.04,8.885,9.11,9.04];
const denseLoTop=[8.60,9.045,8.87,8.665,8.745,8.965,9.02,8.535,8.46,8.95,8.79,9.04,8.95];
const denseHiBottom=[8.965,9.12,8.95,8.672,8.785,8.98,9.12,8.58,8.59,9.02,8.85,9.09,9.015];
const yTicks=[9.2,9.1,9.0,8.9,8.8,8.7,8.6,8.5,8.4];
const solarLo=8.69, solarHi=8.76;
const yMin=8.4,yMax=9.2;
const FX=66,FY=13,FW=267,FH=500;
const NS="http://www.w3.org/2000/svg";
const svg=document.getElementById('fig3');
function yS(v){return FY+(yMax-v)/(yMax-yMin)*FH;}
function xS(i){return FX+(i+0.5)*FW/diagnostics.length;}
function mk(tag,attrs,parent){const e=document.createElementNS(NS,tag);for(const k in attrs)e.setAttribute(k,attrs[k]);(parent||svg).appendChild(e);return e;}
// frame & grid
const frame=mk('rect',{x:FX,y:FY,width:FW,height:FH,fill:'#fff',stroke:'#555','stroke-width':1});


yTicks.forEach(function(t){
  const g=mk('line',{x1:FX,x2:FX+FW,y1:yS(t),y2:yS(t),stroke:'#bbb','stroke-dasharray':'1,2'});
  
  
  const tl=mk('text',{x:FX-3,y:yS(t)+5,'text-anchor':'end','font-size':14,'font-family':'Liberation Serif'});
  tl.textContent=t.toFixed(2);
  
  
});
diagnostics.forEach(function(d,i){
  const g=mk('line',{x1:xS(i),x2:xS(i),y1:FY,y2:FY+FH,stroke:'#bbb','stroke-dasharray':'1,2'});
  
  
});
// solar band
const band=mk('rect',{x:xS(0),y:yS(solarHi),width:xS(diagnostics.length-1)-xS(0),height:yS(solarLo)-yS(solarHi),fill:'#9a9a9a','fill-opacity':0.85,stroke:'#888'});


const bt=mk('text',{x:xS(0)+3,y:yS((solarLo+solarHi)/2)+14,'font-size':15,'font-family':'Liberation Serif'});
bt.textContent='Solar Oxygen Abundance';


// boxes
diagnostics.forEach(function(d,i){
  const x=xS(i);
  const w=mk('line',{x1:x,x2:x,y1:yS(whiskHi[i]),y2:yS(whiskLo[i]),stroke:'#4a55a0','stroke-width':1,'stroke-dasharray':'4,3'});
  
  
  const dl=mk('line',{x1:x,x2:x,y1:yS(denseLoTop[i]),y2:yS(whiskLo[i]),stroke:'#555c95','stroke-width':4.5,'stroke-linecap':'round','stroke-opacity':0.85});
  
  
  const dh=mk('line',{x1:x,x2:x,y1:yS(whiskHi[i]),y2:yS(denseHiBottom[i]),stroke:'#555c95','stroke-width':4.5,'stroke-linecap':'round','stroke-opacity':0.85});
  
  
  const b=mk('rect',{x:x-4.5,y:yS(q3[i]),width:9,height:Math.max(1.5,yS(q1[i])-yS(q3[i])),fill:'#f7c999',stroke:'#d89a60','stroke-width':0.8});
  
  
  const m=mk('line',{x1:x-5.5,x2:x+5.5,y1:yS(medians[i]),y2:yS(medians[i]),stroke:'#111','stroke-width':2.2});
  
  
  const lb=mk('text',{transform:'translate('+(x+5)+','+(FY+FH+5)+') rotate(-90)','text-anchor':'end','font-size':13,'font-family':'Liberation Serif'});
  lb.textContent=d;
  
  
});
const yl=mk('text',{transform:'translate(34,'+(FY+250)+') rotate(-90)','text-anchor':'middle','font-size':15,'font-family':'Liberation Serif'});
yl.textContent='12+log(O/H)';


</script>
</body></html>
